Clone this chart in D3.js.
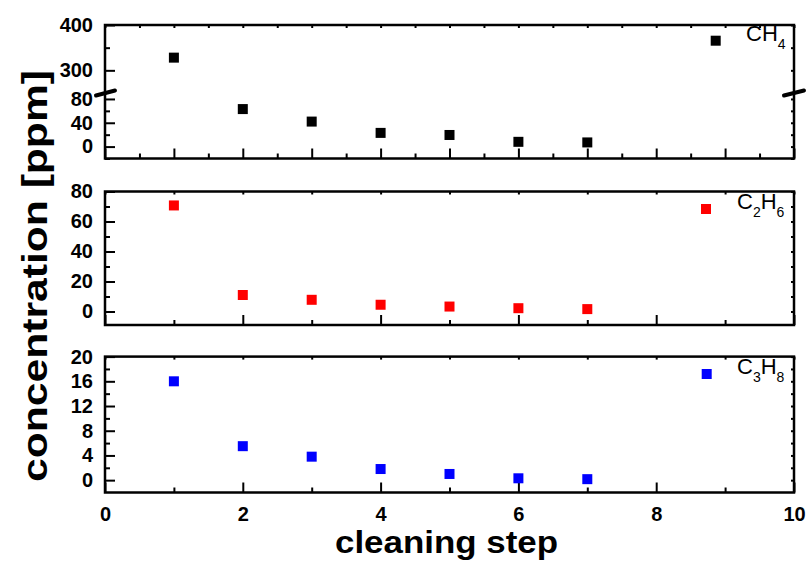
<!DOCTYPE html>
<html>
<head>
<meta charset="utf-8">
<script src="https://cdn.jsdelivr.net/npm/d3@7"></script>
<style>
  html, body { margin: 0; padding: 0; background: #fff; }
  svg text { font-family: "Liberation Sans", Arial, sans-serif; }
</style>
</head>
<body>
<svg id="chart" width="809" height="564"></svg>
<script>
// Cleaning steps and measured gas concentrations (ppm)
const steps = [1, 2, 3, 4, 5, 6, 7];
const ch4 = [328, 63, 42, 23, 19.5, 8, 7];
const c2h6 = [70.7, 11, 7.8, 4.5, 3.3, 2.2, 1.6];
const c3h8 = [16, 5.5, 3.8, 1.8, 1.0, 0.3, 0.16];

// Axis tick values
const xMajorTop = [0, 1, 2, 3, 4, 5, 6, 7, 8, 9, 10];
const xMinorTop = [0.5, 1.5, 2.5, 3.5, 4.5, 5.5, 6.5, 7.5, 8.5, 9.5];
const xMajor = [0, 2, 4, 6, 8, 10];
const xMinor = [1, 3, 5, 7, 9];
const ch4LowMajor = [0, 40, 80];
const ch4LowMinor = [-20, 20, 60];
const ch4HighMajor = [300, 400];
const ch4HighMinor = [350];
const c2h6Major = [0, 20, 40, 60, 80];
const c2h6Minor = [10, 30, 50, 70];
const c3h8Major = [0, 4, 8, 12, 16, 20];
const c3h8Minor = [2, 6, 10, 14, 18];

const svg = d3.select("#chart");
const left = 105, right = 794;
const x = d3.scaleLinear().domain([0, 10]).range([left, right]);

const axisW = 2.5, tickW = 2;
const majorLen = 10, minorLen = 5, mirrorLen = 3;
const labelFont = "20px";

function styleAxis(g, showLabels) {
  g.select(".domain").remove();
  g.selectAll(".tick line").attr("stroke", "#000").attr("stroke-width", tickW);
  g.selectAll(".tick text")
    .attr("fill", "#000")
    .style("font-size", labelFont)
    .style("font-weight", "bold")
    .style("font-family", "'Liberation Sans', Arial, sans-serif");
  if (!showLabels) g.selectAll(".tick text").remove();
}

// Draws x ticks on the bottom (inward) and mirrored ticks on top
function drawXTicks(top, bottom, majors, minors, showLabels) {
  svg.append("g").attr("transform", `translate(0,${bottom})`)
    .call(d3.axisBottom(x).tickValues(majors).tickSize(-majorLen).tickPadding(14).tickFormat(d3.format("d")))
    .call(g => styleAxis(g, showLabels));
  svg.append("g").attr("transform", `translate(0,${bottom})`)
    .call(d3.axisBottom(x).tickValues(minors).tickSize(-minorLen).tickFormat(""))
    .call(g => styleAxis(g, false));
  svg.append("g").attr("transform", `translate(0,${top})`)
    .call(d3.axisTop(x).tickValues(majors.concat(minors)).tickSize(-mirrorLen).tickFormat(""))
    .call(g => styleAxis(g, false));
}

// Draws y ticks on the left (inward, labelled) and mirrored ticks on the right
function drawYTicks(y, majors, minors) {
  svg.append("g").attr("transform", `translate(${left},0)`)
    .call(d3.axisLeft(y).tickValues(majors).tickSize(-majorLen).tickPadding(12).tickFormat(d3.format("d")))
    .call(g => styleAxis(g, true));
  svg.append("g").attr("transform", `translate(${left},0)`)
    .call(d3.axisLeft(y).tickValues(minors).tickSize(-minorLen).tickFormat(""))
    .call(g => styleAxis(g, false));
  svg.append("g").attr("transform", `translate(${right},0)`)
    .call(d3.axisRight(y).tickValues(majors.concat(minors)).tickSize(-mirrorLen).tickFormat(""))
    .call(g => styleAxis(g, false));
}

function frame(top, bottom) {
  svg.append("rect")
    .attr("x", left).attr("y", top)
    .attr("width", right - left).attr("height", bottom - top)
    .attr("fill", "none").attr("stroke", "#000").attr("stroke-width", axisW);
}

function markers(vals, yOf, color) {
  svg.append("g").selectAll("rect").data(steps).join("rect")
    .attr("x", (d) => x(d) - 5)
    .attr("y", (d, i) => yOf(vals[i]) - 5)
    .attr("width", 10).attr("height", 10)
    .attr("fill", color);
}

function legend(mx, my, tx, ty, color, parts) {
  svg.append("rect").attr("x", mx - 5).attr("y", my - 5)
    .attr("width", 10).attr("height", 10).attr("fill", color);
  const t = svg.append("text").attr("x", tx).attr("y", ty)
    .style("font-size", "22px").attr("fill", "#000");
  parts.forEach(([s, sub]) => {
    if (sub) {
      t.append("tspan").text(s).style("font-size", "14px").attr("dy", 8);
    } else {
      t.append("tspan").text(s).attr("dy", t.selectAll("tspan").size() ? -8 : 0);
    }
  });
}

// ---- Top panel: CH4 with broken y axis ----
const p1Top = 25, p1Bot = 158.5, breakY = 93;
const yLow = d3.scaleLinear().domain([-20, 90]).range([p1Bot, breakY]);
const yHigh = d3.scaleLinear().domain([250, 400]).range([breakY, p1Top]);
const yCh4 = (v) => (v > 90 ? yHigh(v) : yLow(v));

drawXTicks(p1Top, p1Bot, xMajorTop, xMinorTop, false);
drawYTicks(yLow, ch4LowMajor, ch4LowMinor);
drawYTicks(yHigh, ch4HighMajor, ch4HighMinor);
frame(p1Top, p1Bot);

// axis break marks
[[left - 9, left + 10], [right - 10, right + 10]].forEach(([a, b]) => {
  svg.append("line")
    .attr("x1", a).attr("y1", breakY + 2.5)
    .attr("x2", b).attr("y2", breakY - 2.5)
    .attr("stroke", "#000").attr("stroke-width", 4).attr("stroke-linecap", "round");
});
markers(ch4, yCh4, "#000000");
legend(715.7, 40.7, 746, 48.5, "#000000", [["CH"], ["4", true]]);

// ---- Middle panel: C2H6 ----
const p2Top = 191.5, p2Bot = 325;
const y2 = d3.scaleLinear().domain([-9, 80]).range([p2Bot, p2Top]);
drawXTicks(p2Top, p2Bot, xMajor, xMinor, false);
drawYTicks(y2, c2h6Major, c2h6Minor);
frame(p2Top, p2Bot);
markers(c2h6, y2, "#ff0000");
legend(706, 209, 737, 216.7, "#ff0000", [["C"], ["2", true], ["H"], ["6", true]]);

// ---- Bottom panel: C3H8 ----
const p3Top = 356.6, p3Bot = 492.5;
const y3 = d3.scaleLinear().domain([-2, 20]).range([p3Bot, p3Top]);
drawXTicks(p3Top, p3Bot, xMajor, xMinor, true);
drawYTicks(y3, c3h8Major, c3h8Minor);
frame(p3Top, p3Bot);
markers(c3h8, y3, "#0000ff");
legend(706.7, 374, 737, 381.7, "#0000ff", [["C"], ["3", true], ["H"], ["8", true]]);

// ---- Axis titles ----
svg.append("text")
  .attr("x", 446.5).attr("y", 553)
  .attr("text-anchor", "middle")
  .attr("textLength", 223).attr("lengthAdjust", "spacingAndGlyphs")
  .style("font-size", "32px").style("font-weight", "bold")
  .text("cleaning step");

svg.append("text")
  .attr("transform", "translate(47,276) rotate(-90)")
  .attr("text-anchor", "middle")
  .attr("textLength", 412).attr("lengthAdjust", "spacingAndGlyphs")
  .style("font-size", "35px").style("font-weight", "bold")
  .text("concentration [ppm]");
</script>
</body>
</html>
